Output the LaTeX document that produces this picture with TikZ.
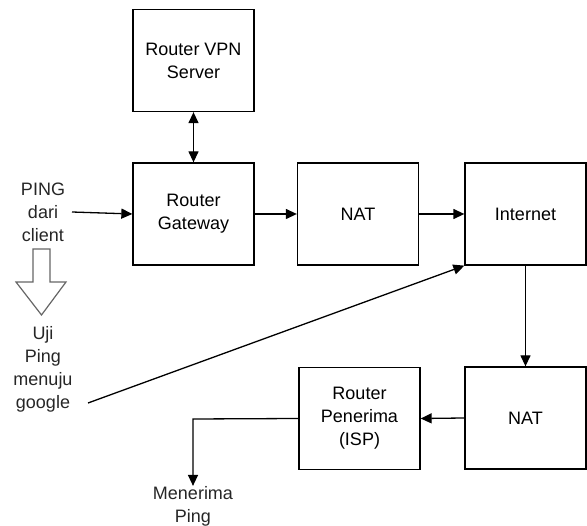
\documentclass[tikz,border=0pt]{standalone}
\usepackage{fontspec}
\setmainfont{Liberation Sans}
\usetikzlibrary{arrows.meta}
\begin{document}
\begin{tikzpicture}[x=1pt,y=-1pt,
  every node/.style={font=\fontsize{18}{23}\selectfont, align=center, inner sep=0pt},
  box/.style={draw, line width=1.3pt, minimum width=121pt, minimum height=102pt},
  tip/.style={Triangle[length=11pt,width=10pt]},
  link/.style={line width=1.3pt, -{Triangle[length=11pt,width=10pt]}},
  lbl/.style={text=black!85}]
\useasboundingbox (0,0) rectangle (587,526);
% boxes
\node[box] (vpn) at (193.5,60.5) {Router VPN\\Server};
\node[box] (gw)  at (193.5,214) {Router\\Gateway};
\node[box] (nat1) at (358,214) {NAT};
\node[box] (inet) at (525.5,214) {Internet};
\node[box] (nat2) at (525.5,418) {NAT};
\node[box] (rcv) at (359.5,418.5) {Router\\Penerima\\(ISP)};
% free labels
\node[lbl] (ping) at (43,212) {PING\\dari\\client};
\node[lbl] (uji) at (43,369) {Uji\\Ping\\menuju\\google};
\node[lbl] (trm) at (193,506) {Menerima\\Ping};
\coordinate (pingout) at (72,212);
\coordinate (ujiout) at (88,403);
\coordinate (turn) at (193,419);
% connectors
\draw[line width=1.3pt, {Triangle[length=11pt,width=10pt]}-{Triangle[length=11pt,width=10pt]}] (vpn.south) -- (gw.north);
\draw[link] (pingout) -- (gw.west);
\draw[link] (gw.east) -- (nat1.west);
\draw[link] (nat1.east) -- (inet.west);
\draw[link] (inet.south) -- (nat2.north);
\draw[link] (nat2.west) -- (rcv.east);
\draw[link] (rcv.west) -- (turn) -- (trm.north);
\draw[link] (ujiout) -- (inet.south west);
% hollow arrow below the ping label
\draw[line width=1.2pt, black!60, fill=white, line join=miter]
  (33,249) -- (50,249) -- (50,282) -- (66,282) -- (41.5,315) -- (16,282) -- (33,282) -- cycle;
\end{tikzpicture}
\end{document}
